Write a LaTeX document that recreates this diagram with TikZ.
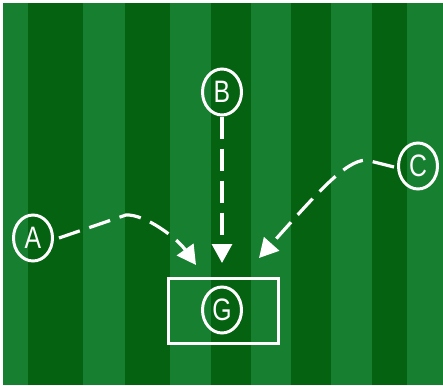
\documentclass[tikz,border=0pt]{standalone}
\usepackage{fontspec}
\setmainfont{Liberation Sans}
\usetikzlibrary{arrows.meta,shapes.geometric}
\definecolor{lightturf}{RGB}{23,128,48}
\definecolor{darkturf}{RGB}{4,98,16}
\tikzset{
  player/.style={draw=white, line width=3pt, ellipse, minimum width=39pt, minimum height=46pt, inner sep=0pt, text=white, font=\fontsize{31}{31}\selectfont},
  run/.style={draw=white, line width=3.2pt, dash pattern=on 22pt off 10pt, -{Triangle[width=20pt,length=19pt]}},
  goalbox/.style={draw=white, line width=3pt, minimum width=110pt, minimum height=65pt, inner sep=0pt}
}
\begin{document}
\begin{tikzpicture}[x=1pt,y=-1pt]
\useasboundingbox (0,0) rectangle (443,385);
\fill[white] (0,0) rectangle (443,385);
\fill[lightturf] (3,3) rectangle (443,385);
\foreach \a/\b in {28/83,125/170,211/251,291/331,372/407}{
  \fill[darkturf] (\a,3) rectangle (\b,385);
}
\node[goalbox] (box) at (223,310.5) {};
\node[player] (G) at (222,310) {\scalebox{0.8}[1]{G}};
\node[player] (A) at (33,238) {\scalebox{0.8}[1]{A}};
\node[player] (B) at (222,92) {\scalebox{0.8}[1]{B}};
\node[player] (C) at (418,166) {\scalebox{0.8}[1]{C}};
\coordinate (tA) at (196,265);
\coordinate (tB) at (222,263);
\coordinate (tC) at (259,258);
\draw[run] (A.east) ++(5,0) -- (126,215) .. controls (145,214) and (177,238) .. (tA);
\draw[run] (B.south) -- (tB);
\draw[run] (C.west) ++(-3,1) -- (366,160) .. controls (345,161) and (318,192) .. (tC);
\end{tikzpicture}
\end{document}
